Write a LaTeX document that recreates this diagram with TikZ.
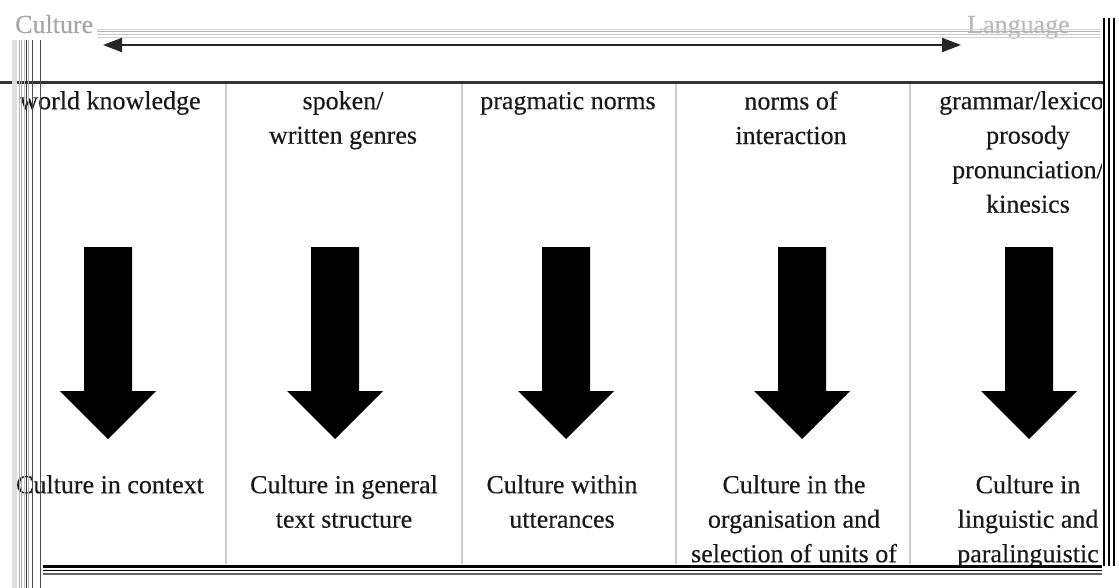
\documentclass[tikz,border=0pt]{standalone}
\usepackage{fontspec}
\setmainfont{Liberation Serif}
\newfontfamily\heavyserif[FakeBold=0.35]{Liberation Serif}
\usetikzlibrary{arrows.meta}
\begin{document}
\begin{tikzpicture}[x=1pt,y=-1pt,
  txt/.style={font=\heavyserif\fontsize{26}{34.5}\selectfont, align=center, anchor=north, inner sep=0pt, text=black!90},
  lbl/.style={font=\heavyserif\fontsize{26}{30}\selectfont, anchor=base west, inner sep=0pt},
  sep/.style={draw=gray!40, line width=1.5pt},
  blockarrow/.style={fill=black}]
\fill[white] (0,0) rectangle (1119,588);
\useasboundingbox (0,0) rectangle (1119,588);

% top labels and double-headed arrow
\node[lbl, text=gray!70] (culture) at (15,33) {Culture};
\node[lbl, text=gray!55] (language) at (967,33) {Language};
\foreach \yy/\cc in {29/gray!35,31.7/gray!60,34.3/gray!45,37.3/gray!35}
  \draw[\cc, line width=0.9pt] (97,\yy) -- (1100,\yy);
\coordinate (al) at (103,45);
\coordinate (ar) at (961,45);
\draw[black!85, line width=2pt, {Triangle[length=19pt,width=14pt]}-{Triangle[length=19pt,width=14pt]}] (al) -- (ar);

% heavy rule under the header
\draw[black!80, line width=3pt] (0,82.5) -- (1104,82.5);

% column separators
\foreach \xx in {226,462,676,910}
  \draw[sep] (\xx,84) -- (\xx,564);

% top texts
\node[txt] (t1) at (110,91) {\rule{0pt}{18pt}world knowledge};
\node[txt] (t2) at (343,91) {\rule{0pt}{18pt}spoken/\\written genres};
\node[txt] (t3) at (568,91) {\rule{0pt}{18pt}pragmatic norms};
\node[txt] (t4) at (791,91) {\rule{0pt}{18pt}norms of\\interaction};
\node[txt] (t5) at (1028,91) {\rule{0pt}{18pt}grammar/lexicon\\prosody\\pronunciation/\\kinesics};

% block arrows
\foreach \c in {108,335,566,802,1029}
  \fill[blockarrow] (\c-24,247) -- (\c+24,247) -- (\c+24,391) -- (\c+48,391)
    -- (\c,439) -- (\c-48,391) -- (\c-24,391) -- cycle;

% bottom texts
\node[txt] (b1) at (110,475) {\rule{0pt}{18pt}Culture in context};
\node[txt] (b2) at (344,475) {\rule{0pt}{18pt}Culture in general\\text structure};
\node[txt] (b3) at (562,475) {\rule{0pt}{18pt}Culture within\\utterances};
\node[txt] (b4) at (794,475) {\rule{0pt}{18pt}Culture in the\\organisation and\\selection of units of};
\node[txt] (b5) at (1028,475) {\rule{0pt}{18pt}Culture in\\linguistic and\\paralinguistic};

% bottom rules
\draw[black, line width=3pt] (43,566) -- (1102,566);
\draw[black, line width=1pt] (43,570) -- (1102,570);
\draw[black!60, line width=2pt] (43,574) -- (1102,574);

% right border
\fill[white] (1101.5,84) rectangle (1119,588);
\foreach \xx/\ww in {1104/1.5,1109/2,1114/1.5}
  \draw[black, line width=\ww pt] (\xx,18) -- (\xx,566);

% left border
\fill[gray!25] (12,40) rectangle (17,588);
\foreach \xx/\cc/\ww in {19/gray!60/1,21/gray!70/1,24/gray!50/1,26.5/black!80/1.2,28.5/gray!60/1,32.5/black!70/1.5,40/black!70/1}
  \draw[\cc, line width=\ww pt] (\xx,40) -- (\xx,588);
\end{tikzpicture}
\end{document}
